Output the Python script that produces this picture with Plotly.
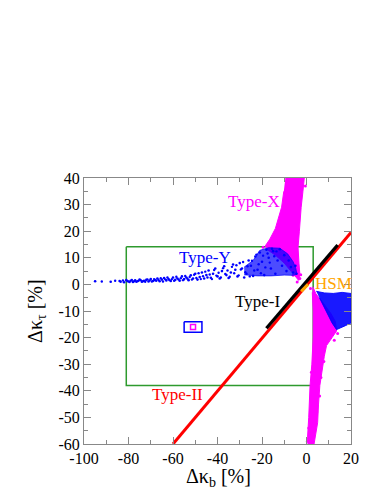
import plotly.graph_objects as go

# outlines / points (data coordinates, %)
type_ii_x = [-60, 20]
type_ii_y = [-60, 19.5]

type_i_x = [-18, 14]
type_i_y = [-16.5, 14.8]

hsm_x = [-2.4, 0.7]
hsm_y = [-2.6, 0.0]

type_x_upper_x = [-9.5, -4.0, -1.0, -1.6, -2.4, -3.2, -3.8, -3.4, -3.0, -3.5, -4.5, -6.5, -10, -14, -17.5, -18.5, -16.5, -14, -12.5, -11.2, -10.2]
type_x_upper_y = [40, 40, 40, 35, 29, 20, 14, 8, 4, 1.5, 2.5, 4.5, 8, 11, 13, 14.5, 17, 21, 25, 29, 35]

type_x_lower_x = [2.8, 4.2, 7.5, 11, 13, 13.5, 11.5, 9, 8, 7, 6, 5.4, 5.0, 4.0, 3.0, 0.8, 0.5, 1.0, 1.3, 1.6, 2.4, 3.0, 3.0, 2.6]
type_x_lower_y = [-0.8, -3.5, -7, -11, -14, -17.5, -20, -23, -27, -32, -38, -45, -52, -57, -62, -62, -57, -50, -44, -38, -30, -20, -10, -3]

type_x_dots_x = [-2.6, -3.0, -4.2, -6.0, 1.8, 3.9, 1.0, 4.6, 0.4, 6.5, 2.2, 14.0, 12.5, -19.5, 0.9, -0.5, 7.8, 5.9]
type_x_dots_y = [3.6, 2.2, 0.9, 3.4, -1.5, -40, -54, -48, -59, -35, -33, -18.5, -21, 14.0, -58, 37, -29, -42]

type_y_core_x = [-28, -24, -21, -17, -12, -8.5, -6, -4.8, -4.3, -6, -10, -16, -22, -28]
type_y_core_y = [6.5, 9.0, 12.8, 13.8, 13.6, 11.5, 8.5, 6.0, 3.8, 3.4, 3.5, 3.2, 3.2, 3.6]

type_y_lower_x = [4.4, 8, 12, 16, 20, 20, 17.5, 13.5, 11.5, 9.5, 7.5, 5.8]
type_y_lower_y = [-2.6, -3.2, -3.4, -3.0, -3.4, -14.5, -15.5, -17, -14.5, -11.2, -8.0, -5.0]

type_y_dots_x = [-95, -88, -84, -82, -81, -80, -79, -78, -77, -76, -75, -74, -73, -72, -71, -70,
                 -69, -68, -67, -66, -65, -64, -63, -62, -61, -60, -59, -58, -57, -56, -55, -54,
                 -53, -52, -51, -50, -49, -48, -47, -46, -45, -44, -43, -42, -41, -40, -39, -38,
                 -37, -36, -35, -34, -33, -32, -31, -30, -29, -28, -27, -26, -25, -24, -23, -22,
                 -21, -20, -19, -18, -17, -16, -15, -14, -13, -12, -11, -10, -9, -8, -7, -6, -5, -4.5]
type_y_dots_y = [1.2, 1.0, 1.3, 0.8, 1.6, 1.1, 1.4, 0.9, 1.5, 1.2, 1.8, 1.0, 1.4, 1.7, 1.1, 2.0,
                 1.3, 1.6, 2.2, 1.2, 1.8, 2.4, 1.5, 2.0, 1.3, 2.6, 1.7, 2.2, 1.4, 3.0, 2.0, 2.6,
                 1.6, 3.4, 2.2, 4.0, 1.8, 2.8, 4.5, 2.2, 3.5, 5.2, 2.5, 4.0, 6.0, 3.0, 2.2, 5.0,
                 6.8, 3.5, 2.4, 4.5, 7.5, 5.5, 3.0, 8.0, 6.0, 2.6, 4.0, 9.0, 7.0, 3.2, 10.5, 5.5,
                 12.0, 8.5, 3.5, 13.0, 10.0, 6.0, 12.5, 4.0, 9.0, 13.2, 7.0, 11.0, 5.0, 9.0, 6.5, 4.5, 7.0, 4.0]

type_y_band_x = [-92, -86, -83.5, -82.5, -80.5, -79.5, -78.5, -77.5, -76.5, -75.5, -74.5, -73.5,
                 -72.5, -71.5, -70.5, -69.5, -68.5, -67.5, -66.5, -65.5, -64.5, -63.5, -62.5, -61.5,
                 -60.5, -59.5, -58.5, -57.5, -56.5, -55.5, -54.5, -53.5, -52.5, -51.5, -50.5, -49.5,
                 -48.5, -47.5, -46.5, -45.5, -44.5, -43.5, -42.5, -41.5, -40.5, -39.5, -38.5, -37.5,
                 -36.5, -35.5, -34.5, -33.5, -32.5, -31.5, -30.5, -29.5, -28.5, -27.5, -26.5, -25.5,
                 -24.5, -23.5, -22.5, -21.5, -20.5, -19.5, -18.5, -17.5, -16.5, -15.5, -14.5, -13.5]
type_y_band_y = [1.1, 1.4, 1.0, 1.5, 1.3, 0.9, 1.7, 1.2, 1.0, 1.4, 1.6, 1.2, 1.0, 1.9, 1.5, 1.1,
                 2.0, 1.4, 1.7, 2.3, 1.1, 1.9, 2.6, 1.6, 2.0, 1.4, 2.9, 1.8, 2.3, 1.6, 3.2, 2.1,
                 2.8, 1.8, 3.6, 2.4, 4.2, 2.0, 3.1, 4.8, 2.6, 3.7, 2.0, 5.4, 3.3, 4.4, 2.6, 6.1,
                 3.9, 5.2, 2.9, 6.6, 4.2, 7.2, 3.4, 5.6, 8.4, 4.6, 6.8, 3.0, 8.9, 5.2, 11.2, 7.6,
                 4.2, 10.8, 6.4, 11.6, 8.2, 13.4, 10.6, 12.4]

green_box_x = [-81, 3, 3, -81, -81]
green_box_y = [14.2, 14.2, -38, -38, 14.2]

blue_box_x = [-55, -47, -47, -55, -55]
blue_box_y = [-14, -14, -18, -18, -14]
small_point_x = [-51]
small_point_y = [-16]

x_tick_vals = [-100, -80, -60, -40, -20, 0, 20]
x_tick_text = ["-100", "-80", "-60", "-40", "-20", "0", "20"]
y_tick_vals = [-60, -50, -40, -30, -20, -10, 0, 10, 20, 30, 40]
y_tick_text = ["-60", "-50", "-40", "-30", "-20", "-10", "0", "10", "20", "30", "40"]

MAGENTA = "#ff00ff"
BLUE = "#0000ff"
RED = "#ff0000"
ORANGE = "#ffa500"
GREEN = "#2e9a2e"
FONT = "Liberation Serif, Times New Roman, serif"


def _region(x, y, color):
    return go.Scatter(x=x, y=y, mode="lines", fill="toself", fillcolor=color,
                      line={"color": color, "width": 1}, hoverinfo="skip")


def _dots(x, y, color, size=3):
    return go.Scatter(x=x, y=y, mode="markers",
                      marker={"color": color, "size": size, "line": {"width": 0}})


def _line(x, y, color, width=3):
    return go.Scatter(x=x, y=y, mode="lines", line={"color": color, "width": width})


fig = go.Figure()
fig.add_trace(_line(green_box_x, green_box_y, GREEN, 1.5))
fig.add_trace(_region(type_x_upper_x, type_x_upper_y, MAGENTA))
fig.add_trace(_region(type_x_lower_x, type_x_lower_y, MAGENTA))
fig.add_trace(_dots(type_x_dots_x, type_x_dots_y, MAGENTA))
fig.add_trace(_region(type_y_core_x, type_y_core_y, "rgba(0,0,255,0.7)"))
fig.add_trace(_region(type_y_lower_x, type_y_lower_y, "rgba(0,0,255,0.9)"))
fig.add_trace(_dots(type_y_dots_x, type_y_dots_y, BLUE, 2.6))
fig.add_trace(_dots(type_y_band_x, type_y_band_y, BLUE, 2.4))
fig.add_trace(_line(type_ii_x, type_ii_y, RED))
fig.add_trace(_line(type_i_x, type_i_y, "black", 3.3))
fig.add_trace(_line(hsm_x, hsm_y, ORANGE))
fig.add_trace(_line(blue_box_x, blue_box_y, BLUE, 1.5))
fig.add_trace(go.Scatter(x=small_point_x, y=small_point_y, mode="markers",
                         marker={"symbol": "square-open", "size": 5, "color": MAGENTA,
                                 "line": {"width": 1.5, "color": MAGENTA}}))

labels = [
    ("Type-X", -23.7, 31.2, MAGENTA),
    ("Type-Y", -45.5, 10.2, BLUE),
    ("Type-I", -22.2, -6.4, "black"),
    ("Type-II", -57.9, -41.5, RED),
    ("HSM", 12.1, 0.2, ORANGE),
]
for text, x, y, color in labels:
    fig.add_annotation(x=x, y=y, xref="x", yref="y", text=text, showarrow=False,
                       font={"family": FONT, "size": 17, "color": color})

# axis titles placed as annotations so they sit as close as in the reference
title_font = {"family": FONT, "size": 20, "color": "black"}
fig.add_annotation(x=0.505, y=-0.072, xref="paper", yref="paper", xanchor="center",
                   yanchor="top", text="Δκ<sub>b</sub> [%]", showarrow=False, font=title_font)
fig.add_annotation(x=-0.18, y=0.5, xref="paper", yref="paper", xanchor="center",
                   yanchor="middle", text="Δκ<sub>τ</sub> [%]", textangle=-90,
                   showarrow=False, font=title_font)

axis_common = dict(
    showgrid=False, zeroline=False, showline=True, linecolor="#888888", linewidth=1,
    mirror="ticks", ticks="inside", ticklen=7, tickcolor="#888888",
    tickfont={"family": FONT, "size": 16, "color": "black"},
)
fig.update_xaxes(
    range=[-100, 20], tickvals=x_tick_vals, ticktext=x_tick_text,
    minor={"ticks": "inside", "ticklen": 4, "dtick": 10, "tickcolor": "#888888"},
    **axis_common,
)
fig.update_yaxes(
    range=[-60, 40], tickvals=y_tick_vals, ticktext=y_tick_text,
    minor={"ticks": "inside", "ticklen": 4, "dtick": 5, "tickcolor": "#888888"},
    **axis_common,
)
fig.update_layout(
    width=382, height=494, showlegend=False,
    plot_bgcolor="white", paper_bgcolor="white",
    margin={"l": 76, "r": 39, "t": 170, "b": 58},
)
fig.write_html("out.html")
